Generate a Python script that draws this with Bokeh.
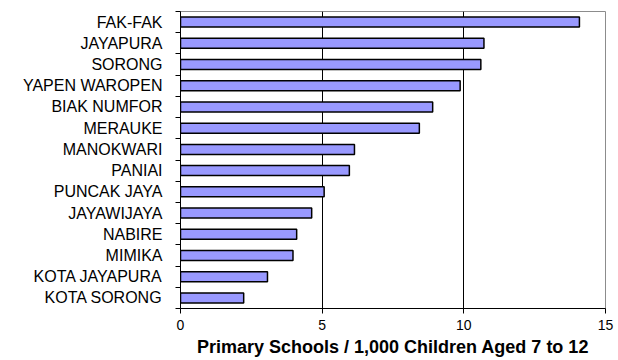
from bokeh.plotting import figure
from bokeh.models import Range1d, FixedTicker
from bokeh.embed import file_html
from bokeh.resources import INLINE

# Regencies, listed top to bottom
regencies = [
    "FAK-FAK", "JAYAPURA", "SORONG", "YAPEN WAROPEN", "BIAK NUMFOR",
    "MERAUKE", "MANOKWARI", "PANIAI", "PUNCAK JAYA", "JAYAWIJAYA",
    "NABIRE", "MIMIKA", "KOTA JAYAPURA", "KOTA SORONG",
]
# Primary schools per 1,000 children aged 7 to 12
schools_per_1000 = [
    14.08, 10.71, 10.6, 9.87, 8.9,
    8.43, 6.14, 5.96, 5.07, 4.63,
    4.1, 3.97, 3.07, 2.23,
]
x_ticks = [0, 5, 10, 15]
x_title = "Primary Schools / 1,000 Children Aged 7 to 12"

n = len(regencies)
# first entry sits at the top
y_pos = [n - 1 - i for i in range(n)]

FONT = "Liberation Sans"

p = figure(
    width=618, height=360,
    x_range=Range1d(0, 15), y_range=Range1d(-0.5, n - 0.5),
    output_backend="svg", toolbar_location=None,
    min_border_left=180, min_border_right=13,
    min_border_top=11, min_border_bottom=52,
)
p.background_fill_color = "white"
p.border_fill_color = "white"
p.outline_line_color = "#8c8c8c"
p.outline_line_width = 1

p.hbar(y=y_pos, left=0, right=schools_per_1000, height=0.47,
       fill_color="#9999FF", line_color="black", line_width=1.5)

# vertical grid lines
p.ygrid.visible = False
p.xgrid.ticker = FixedTicker(ticks=x_ticks)
p.xgrid.grid_line_color = "black"
p.xgrid.grid_line_width = 1

# x axis
xa = p.xaxis[0]
xa.ticker = FixedTicker(ticks=x_ticks)
xa.axis_line_color = "black"
xa.major_tick_line_color = "black"
xa.major_tick_out = 5
xa.major_tick_in = 0
xa.minor_tick_line_color = None
xa.major_label_text_font = FONT
xa.major_label_text_font_size = "14px"
xa.major_label_text_color = "black"
xa.major_label_standoff = 6
xa.axis_label = x_title
xa.axis_label_text_font = FONT
xa.axis_label_text_font_size = "18px"
xa.axis_label_text_font_style = "bold"
xa.axis_label_text_color = "black"
xa.axis_label_standoff = 4

# y axis: labels at bar centres, ticks at category boundaries
ya = p.yaxis[0]
ya.ticker = FixedTicker(ticks=y_pos, minor_ticks=[k - 0.5 for k in range(n + 1)])
ya.major_label_overrides = {y: name for y, name in zip(y_pos, regencies)}
ya.axis_line_color = "black"
ya.major_tick_line_color = None
ya.major_tick_out = 0
ya.major_tick_in = 0
ya.minor_tick_line_color = "black"
ya.minor_tick_out = 5
ya.minor_tick_in = 0
ya.major_label_text_font = FONT
ya.major_label_text_font_size = "16px"
ya.major_label_text_color = "black"
ya.major_label_standoff = 13

open("out.html", "w").write(file_html(p, INLINE))
